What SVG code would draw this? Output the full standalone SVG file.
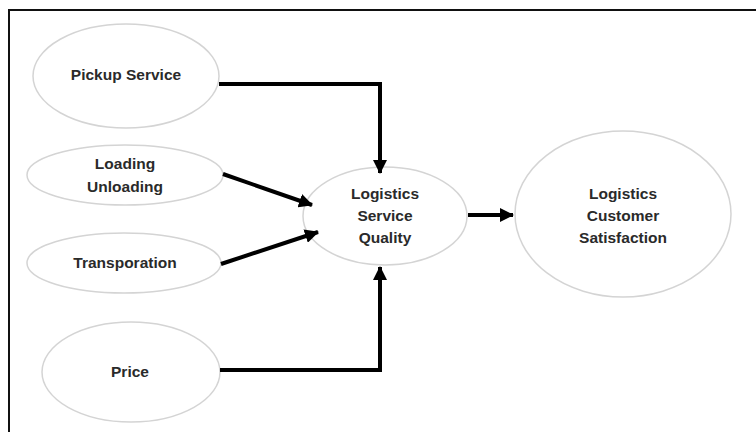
<svg xmlns="http://www.w3.org/2000/svg" width="756" height="432" viewBox="0 0 756 432">
<defs>
<marker id="ah" markerUnits="userSpaceOnUse" markerWidth="14" markerHeight="14" viewBox="0 0 14 14" refX="13" refY="7" orient="auto">
<path d="M0,0 L14,7 L0,14 Z" fill="#000"/>
</marker>
<style>
.n{fill:#fff;stroke:#d4d4d4;stroke-width:1.5}
.t{font-family:"Liberation Sans",Arial,sans-serif;font-weight:bold;font-size:15.5px;fill:#2a2a2a;text-anchor:middle;dominant-baseline:middle}
.c{fill:none;stroke:#000;stroke-width:4;marker-end:url(#ah)}
</style>
</defs>
<rect width="756" height="432" fill="#fff"/>
<path d="M9,432 V10 H756" fill="none" stroke="#111" stroke-width="2"/>
<g id="pickup"><ellipse class="n" cx="126" cy="76" rx="93" ry="52"/><text class="t" x="126" y="76">Pickup Service</text></g>
<g id="loading"><ellipse class="n" cx="125" cy="175" rx="98" ry="30"/><text class="t" x="125" y="165">Loading</text><text class="t" x="125" y="188">Unloading</text></g>
<g id="transport"><ellipse class="n" cx="124" cy="263" rx="97" ry="30"/><text class="t" x="125" y="264">Transporation</text></g>
<g id="price"><ellipse class="n" cx="131" cy="372" rx="89" ry="50"/><text class="t" x="130" y="373">Price</text></g>
<g id="lsq"><ellipse class="n" cx="385" cy="216" rx="82" ry="49"/><text class="t" x="385" y="195">Logistics</text><text class="t" x="385" y="217">Service</text><text class="t" x="385" y="239">Quality</text></g>
<g id="lcs"><ellipse class="n" cx="623" cy="214" rx="108" ry="83"/><text class="t" x="623" y="195">Logistics</text><text class="t" x="623" y="217">Customer</text><text class="t" x="623" y="239">Satisfaction</text></g>
<g id="connectors">
<path class="c" d="M219,84 H380 V173"/>
<path class="c" d="M223,174 L312,205"/>
<path class="c" d="M221,264 L318,232"/>
<path class="c" d="M220,370 H380 V267"/>
<path class="c" d="M468,215 H513"/>
</g>
</svg>
